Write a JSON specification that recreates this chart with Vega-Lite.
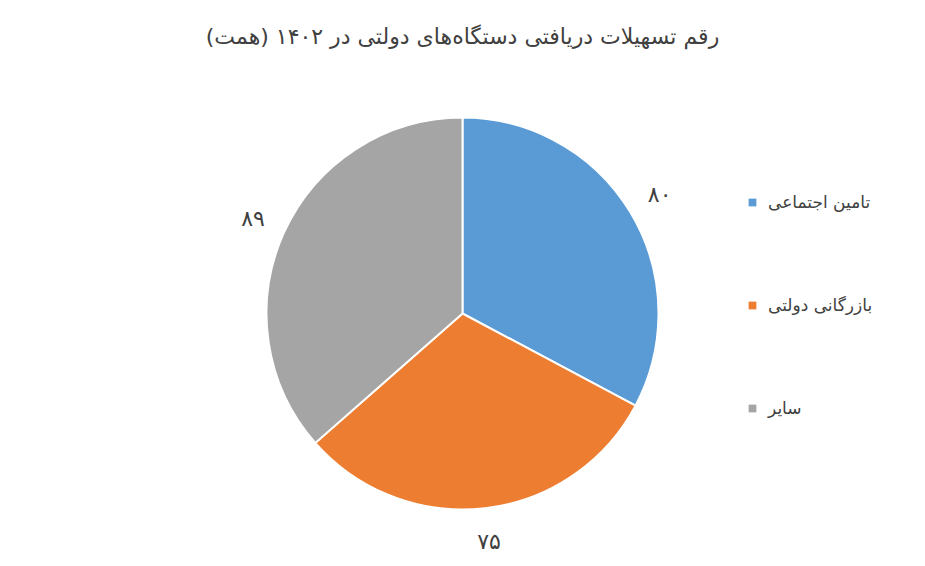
{
  "$schema": "https://vega.github.io/schema/vega-lite/v6.json",
  "width": 925,
  "height": 566,
  "autosize": {"type": "fit", "contains": "padding"},
  "padding": {"top": 26, "bottom": 0, "left": 0, "right": 0},
  "background": "white",
  "title": {
    "text": "رقم تسهیلات دریافتی دستگاه‌های دولتی در ۱۴۰۲ (همت)",
    "font": "DejaVu Sans",
    "fontSize": 22,
    "fontWeight": "normal",
    "color": "#404040",
    "anchor": "middle",
    "offset": 12
  },
  "config": {"view": {"stroke": null}},
  "data": {
    "values": [
      {"group": "تامین اجتماعی", "value": 80, "label": "۸۰", "order": 1},
      {"group": "بازرگانی دولتی", "value": 75, "label": "۷۵", "order": 2},
      {"group": "سایر", "value": 89, "label": "۸۹", "order": 3}
    ]
  },
  "encoding": {
    "theta": {"field": "value", "type": "quantitative", "stack": true},
    "order": {"field": "order", "type": "quantitative"}
  },
  "layer": [
    {
      "mark": {"type": "arc", "outerRadius": 196, "stroke": "white", "strokeWidth": 2},
      "encoding": {
        "color": {
          "field": "group",
          "type": "nominal",
          "scale": {
            "domain": ["تامین اجتماعی", "بازرگانی دولتی", "سایر"],
            "range": ["#5B9BD5", "#ED7D31", "#A5A5A5"]
          },
          "legend": {
            "title": null,
            "orient": "none",
            "legendX": 744,
            "legendY": 133,
            "symbolType": "square",
            "symbolSize": 60,
            "symbolStrokeWidth": 0,
            "labelFont": "DejaVu Sans",
            "labelFontSize": 17,
            "labelColor": "#404040",
            "rowPadding": 85,
            "labelOffset": 7
          }
        }
      }
    },
    {
      "mark": {"type": "text", "radius": 230, "font": "DejaVu Sans", "fontSize": 22, "color": "#404040"},
      "encoding": {"text": {"field": "label", "type": "nominal"}}
    }
  ]
}
